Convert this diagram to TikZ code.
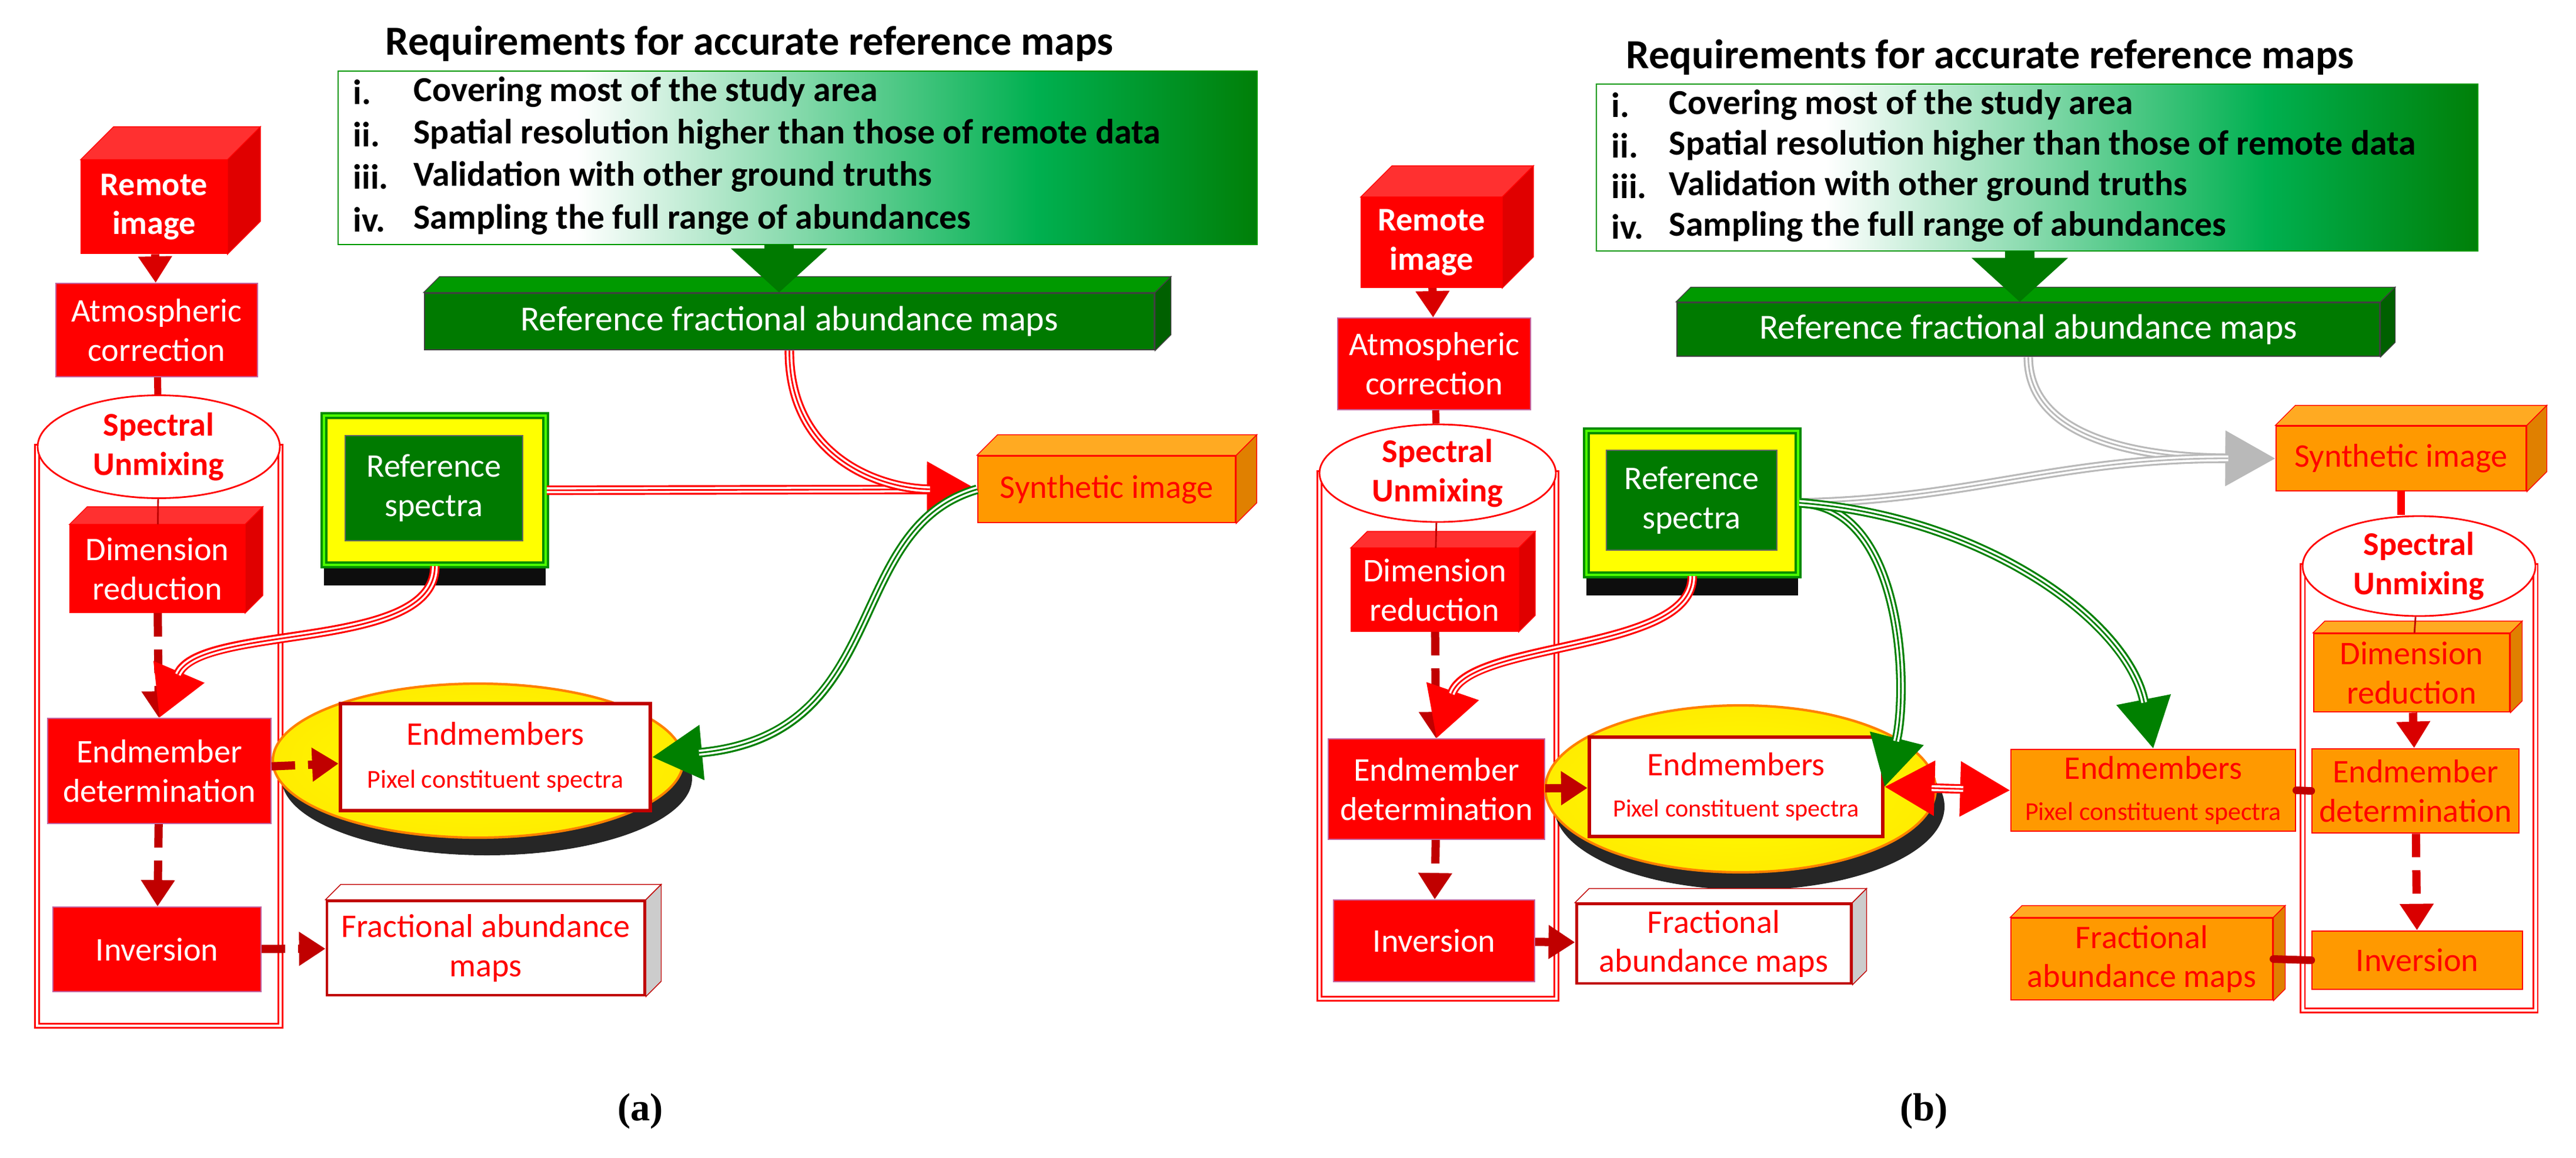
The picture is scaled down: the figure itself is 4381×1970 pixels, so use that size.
\documentclass[tikz,border=0pt]{standalone}
\usepackage{fontspec}
\setmainfont{Carlito}
\newfontfamily\serifl{Liberation Serif}
\usetikzlibrary{shapes.geometric,arrows.meta,calc,shadows}
\definecolor{dG}{HTML}{007A00}
\definecolor{gB}{HTML}{00B050}
\definecolor{gTop}{HTML}{009A00}
\definecolor{gSide}{HTML}{006000}
\definecolor{rTop}{HTML}{FF3030}
\definecolor{rSide}{HTML}{E00000}
\definecolor{dRed}{HTML}{C00000}
\definecolor{orng}{HTML}{FF9900}
\definecolor{oTop}{HTML}{FFAA22}
\definecolor{oSide}{HTML}{E08000}
\definecolor{yel}{HTML}{FFFF00}
\pgfdeclarehorizontalshading{reqshade}{100bp}{color(0bp)=(white); color(38bp)=(white); color(63bp)=(gB); color(75bp)=(dG!90!gB); color(100bp)=(dG)}
\newcommand\fsz[2]{\fontsize{#1}{#2}\selectfont}
\newcommand\cubefaces[5]{%
  \filldraw[fill=#3,draw=#5,line width=0.4pt] (#1.north west) -- ++(#2,-#2) -- ($(#1.north east)+(#2,-#2)$) -- (#1.north east) -- cycle;
  \filldraw[fill=#4,draw=#5,line width=0.4pt] (#1.north east) -- ++(#2,-#2) -- ($(#1.south east)+(#2,-#2)$) -- (#1.south east) -- cycle;}
\tikzset{
  redbox/.style={rectangle,fill=red,draw=blue!40!red!60,line width=0.5pt,text=white,font=\fsz{16}{19},align=center,inner sep=0pt},
  redboxb/.style={redbox,font=\bfseries\fsz{16}{19}},
  orbox/.style={rectangle,fill=orng,draw=red,line width=0.8pt,text=red,font=\fsz{16}{19},align=center,inner sep=0pt},
  whbox/.style={rectangle,fill=white,draw=dRed,line width=1.8pt,text=red,font=\fsz{16}{19},align=center,inner sep=0pt},
  gbox/.style={rectangle,fill=dG,draw=black!75,line width=0.8pt,text=white,font=\fsz{17}{20},inner sep=0pt},
  suell/.style={ellipse,fill=white,draw=red,line width=0.8pt,text=red,font=\bfseries\fsz{16}{19},align=center,inner sep=0pt},
  yell/.style={ellipse,shade,inner color=yel,outer color=yel!85!orange,draw=orange,line width=1.2pt,drop shadow={shadow xshift=1.5mm,shadow yshift=-3mm,fill=black,opacity=0.85}},
  rsout/.style={rectangle,fill=yel,draw=green!55!black,double=green!70!yellow,double distance=1pt,line width=1.2pt,drop shadow={shadow xshift=0mm,shadow yshift=-3.5mm,fill=black,opacity=0.95}},
  rsin/.style={rectangle,fill=dG,draw=black!60,line width=0.6pt,text=white,font=\fsz{16}{19},align=center,inner sep=0pt},
  cyl/.style={draw=red,double=white,double distance=1.4pt,line width=0.6pt},
  tri/.style={draw=#1,line width=4.6pt,
     postaction={draw=white,line width=2.8pt,arrows=-,shorten >=8mm},
     postaction={draw=#1,line width=0.8pt,arrows=-,shorten >=8mm}},
  trib/.style={draw=#1,line width=4.6pt,
     postaction={draw=white,line width=2.8pt,arrows=-,shorten >=8mm,shorten <=8mm},
     postaction={draw=#1,line width=0.8pt,arrows=-,shorten >=8mm,shorten <=8mm}},
  big/.style={-{Triangle[length=8.5mm,width=9mm]}},
  dsh/.style={draw=dRed,line width=1.4mm,dash pattern=on 4mm off 2.2mm,-{Triangle[length=4.5mm,width=5.5mm]}},
  sol/.style={draw=red!85!black,line width=1.4mm,-{Triangle[length=4.5mm,width=5.5mm]}},
  lnk/.style={draw=dRed,line width=1.3mm,line cap=round},
  req/.style={font=\bfseries\fsz{17}{20},anchor=west,inner sep=0pt},
  ttl/.style={font=\bfseries\fsz{20}{24},anchor=base,inner sep=0pt},
}
\begin{document}
\begin{tikzpicture}[x=0.1mm,y=-0.1mm]
\useasboundingbox (0,0) rectangle (4381,1970);
% ================= PANEL (a) =================
\draw[cyl] (63,760) rectangle (477,1745);
\node[ttl] (titleA) at (1275,94) {Requirements for accurate reference maps};
\node[rectangle,shading=reqshade,draw=green!60!black,line width=0.8pt,minimum width=156.3mm,minimum height=29.5mm,inner sep=0pt] (reqA) at (1356.5,268.5) {};
\node[req] (rA1) at (600,157) {i.};   \node[req] (tA1) at (703,157) {Covering most of the study area};
\node[req] (rA2) at (600,229) {ii.};  \node[req] (tA2) at (703,229) {Spatial resolution higher than those of remote data};
\node[req] (rA3) at (600,301) {iii.}; \node[req] (tA3) at (703,301) {Validation with other ground truths};
\node[req] (rA4) at (600,374) {iv.};  \node[req] (tA4) at (703,374) {Sampling the full range of abundances};
\node[gbox,minimum width=124.1mm,minimum height=9.6mm] (rfmA) at (1342.5,547) {Reference fractional abundance maps};
\cubefaces{rfmA}{27}{gTop}{gSide}{black!75}
\coordinate (reqAarr) at (1325,416);
\draw[draw=dG,line width=5mm,-{Triangle[length=7.5mm,width=16mm]}] (reqAarr) -- (reqAarr |- rfmA.north);
\node[redboxb,minimum width=24.8mm,minimum height=15.9mm,draw=red] (remA) at (262,352) {Remote\\image};
\cubefaces{remA}{56}{rTop}{rSide}{red}
\node[redbox,minimum width=34.3mm,minimum height=15.9mm] (atmA) at (266.5,561.5) {Atmospheric\\correction};
\node[suell,minimum width=41.2mm,minimum height=17.5mm] (elA) at (270,760) {Spectral\\Unmixing};
\node[redbox,minimum width=29.7mm,minimum height=14.9mm,draw=red] (dimA) at (267.5,967.5) {Dimension\\reduction};
\cubefaces{dimA}{30}{rTop}{rSide}{red}
\node[redbox,minimum width=38mm,minimum height=17.9mm] (emdA) at (271,1311.5) {Endmember\\determination};
\node[redbox,minimum width=35.4mm,minimum height=14.4mm] (invA) at (267,1615) {Inversion};
\node[rsout,minimum width=37.7mm,minimum height=25.4mm] (rsAo) at (739.5,834) {};
\node[rsin,minimum width=30.2mm,minimum height=17.9mm] (rsA) at (738,830.5) {Reference\\spectra};
\node[orbox,minimum width=43.8mm,minimum height=11.3mm] (synA) at (1882,832.5) {Synthetic image};
\cubefaces{synA}{35}{oTop}{oSide}{red}
\node[yell,minimum width=69.8mm,minimum height=26.2mm] (ellA) at (813,1294) {};
\node[whbox,minimum width=52.7mm,minimum height=18.2mm] (emA) at (842.5,1288) {Endmembers\\[2pt]{\fsz{12.5}{15}Pixel constituent spectra}};
\node[whbox,line width=1.4pt,minimum width=54mm,minimum height=16mm] (frA) at (826,1613) {Fractional abundance\\maps};
\cubefaces{frA}{26}{white}{black!20}{dRed}
\node[font=\serifl\bfseries\fsz{19}{22}] (labA) at (1089,1890) {(a)};
% connectors (a)
\draw[sol] (remA) -- (atmA);
\draw[draw=red!85!black,line width=1.2mm] (atmA) -- (elA);
\draw[draw=dRed,line width=0.8pt] (elA) -- (dimA);
\draw[dsh] (dimA) -- (emdA);
\draw[dsh] (emdA) -- (invA);
\draw[dsh] (emdA) -- (emA);
\draw[dsh] (invA) -- (frA);
\draw[tri=red,big] (rsAo.south) .. controls (740,1110) and (340,1060) .. (emdA.north);
\draw[tri=red,big] (rsAo.east) -- (synA.west);
\draw[tri=red,big] (rfmA.south) .. controls (1342,780) and (1500,832) .. (synA.west);
\draw[tri=green!50!black,big] (synA.west) .. controls (1430,900) and (1520,1250) .. (emA.east);
% ================= PANEL (b) =================
\draw[cyl] (2244,805) rectangle (2647,1699);
\draw[cyl] (3916,963) rectangle (4312,1719);
\node[ttl] (titleB) at (3385,117) {Requirements for accurate reference maps};
\node[rectangle,shading=reqshade,draw=green!60!black,line width=0.8pt,minimum width=149.9mm,minimum height=28.4mm,inner sep=0pt] (reqB) at (3464.5,285) {};
\node[req] (rB1) at (2740,179) {i.};   \node[req] (tB1) at (2838,179) {Covering most of the study area};
\node[req] (rB2) at (2740,248) {ii.};  \node[req] (tB2) at (2838,248) {Spatial resolution higher than those of remote data};
\node[req] (rB3) at (2740,317) {iii.}; \node[req] (tB3) at (2838,317) {Validation with other ground truths};
\node[req] (rB4) at (2740,386) {iv.};  \node[req] (tB4) at (2838,386) {Sampling the full range of abundances};
\node[gbox,minimum width=119.5mm,minimum height=9.1mm] (rfmB) at (3449.5,560.5) {Reference fractional abundance maps};
\cubefaces{rfmB}{25}{gTop}{gSide}{black!75}
\coordinate (reqBarr) at (3435,427);
\draw[draw=dG,line width=5mm,-{Triangle[length=7.5mm,width=16mm]}] (reqBarr) -- (reqBarr |- rfmB.north);
\node[redboxb,minimum width=23.9mm,minimum height=15.3mm,draw=red] (remB) at (2434.5,412.5) {Remote\\image};
\cubefaces{remB}{53}{rTop}{rSide}{red}
\node[redbox,minimum width=32.8mm,minimum height=15.6mm] (atmB) at (2439,619) {Atmospheric\\correction};
\node[suell,minimum width=40.2mm,minimum height=16.6mm] (elB) at (2445,805) {Spectral\\Unmixing};
\node[redbox,minimum width=28.4mm,minimum height=14.1mm,draw=red] (dimB) at (2440,1003.5) {Dimension\\reduction};
\cubefaces{dimB}{28}{rTop}{rSide}{red}
\node[redbox,minimum width=36.8mm,minimum height=17.1mm] (emdB) at (2443,1342.5) {Endmember\\determination};
\node[redbox,minimum width=34.2mm,minimum height=13.9mm] (invB) at (2439,1600.5) {Inversion};
\node[rsout,minimum width=36mm,minimum height=24.5mm] (rsBo) at (2878,855.5) {};
\node[rsin,minimum width=29mm,minimum height=17mm] (rsB) at (2877,851) {Reference\\spectra};
\node[orbox,minimum width=42.5mm,minimum height=11mm] (synB) at (4083.5,780) {Synthetic image};
\cubefaces{synB}{34}{oTop}{oSide}{red}
\node[yell,minimum width=66.4mm,minimum height=28.4mm] (ellB) at (2960,1342) {};
\node[whbox,minimum width=49.9mm,minimum height=16.9mm] (emB) at (2952.5,1338.5) {Endmembers\\[1pt]{\fsz{12}{14}Pixel constituent spectra}};
\node[whbox,line width=1.4pt,minimum width=46.7mm,minimum height=13.5mm] (frB) at (2914.5,1605.5) {Fractional\\abundance maps};
\cubefaces{frB}{24}{white}{black!20}{dRed}
\node[orbox,minimum width=48.4mm,minimum height=13.9mm] (emO) at (3662,1344.5) {Endmembers\\[1pt]{\fsz{12.5}{14}Pixel constituent spectra}};
\node[orbox,minimum width=44.5mm,minimum height=13.9mm] (frO) at (3642.5,1631.5) {Fractional\\abundance maps};
\cubefaces{frO}{20}{oTop}{oSide}{red}
\node[suell,minimum width=39.6mm,minimum height=17mm] (elR) at (4114,963) {Spectral\\Unmixing};
\node[orbox,minimum width=33.3mm,minimum height=13.3mm] (dimR) at (4101.5,1144.5) {Dimension\\reduction};
\cubefaces{dimR}{20}{oTop}{oSide}{red}
\node[orbox,minimum width=35.2mm,minimum height=14.3mm] (emdR) at (4108,1345.5) {Endmember\\determination};
\node[orbox,minimum width=35.8mm,minimum height=9.9mm] (invR) at (4111,1633.5) {Inversion};
\node[font=\serifl\bfseries\fsz{19}{22}] (labB) at (3272,1890) {(b)};
% connectors (b)
\draw[sol] (remB) -- (atmB);
\draw[draw=red!85!black,line width=1.2mm] (atmB) -- (elB);
\draw[draw=dRed,line width=0.8pt] (elB) -- (dimB);
\draw[dsh] (dimB) -- (emdB);
\draw[dsh] (emdB) -- (invB);
\draw[dsh] (emdB) -- (emB);
\draw[dsh] (invB) -- (frB);
\draw[tri=red,big] (rsBo.south) .. controls (2880,1110) and (2500,1090) .. (emdB.north);
\draw[tri=gray!55,big] (rfmB.south) .. controls (3450,750) and (3650,779) .. (synB.west);
\draw[tri=gray!55,big] (rsBo.east) .. controls (3350,850) and (3500,779) .. (synB.west);
\draw[tri=green!50!black,big] (rsBo.east) .. controls (3240,860) and (3245,1180) .. (emB.east);
\draw[tri=green!50!black,big] (rsBo.east) .. controls (3380,880) and (3620,1060) .. (emO.north);
\draw[trib=red,{Triangle[length=8.5mm,width=9mm]}-{Triangle[length=8.5mm,width=9mm]}] (emB.east) -- (emO.west);
\draw[draw=red,line width=1.3mm,dash pattern=on 4mm off 2mm] (synB.south) -- (synB.south |- elR.north);
\draw[draw=dRed,line width=0.8pt] (elR) -- (dimR);
\draw[dsh,draw=red!85!black] (dimR) -- (emdR);
\draw[dsh,draw=red!85!black] (emdR) -- (invR);
\draw[lnk] (emO.east) -- (emdR.west);
\draw[lnk] (frO.east) -- (invR.west);
\end{tikzpicture}
\end{document}
